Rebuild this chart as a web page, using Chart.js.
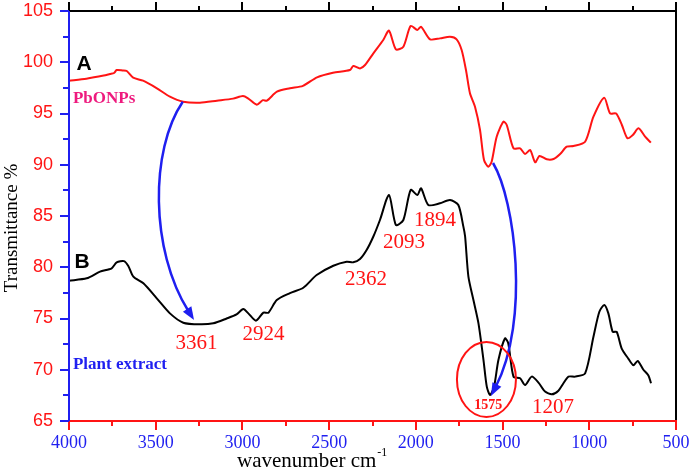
<!DOCTYPE html>
<html>
<head>
<meta charset="utf-8">
<script src="https://cdn.jsdelivr.net/npm/chart.js@4.4.1/dist/chart.umd.min.js"></script>
<style>
  html, body { margin: 0; padding: 0; background: #ffffff; }
  #wrap { width: 692px; height: 473px; position: relative; }
</style>
</head>
<body>
<div id="wrap"><canvas id="ftir"></canvas></div>
<script>
// Spectrum A (PbONPs)
const waveA = [4000, 3900, 3800, 3764, 3740, 3725, 3690, 3667, 3630, 3573, 3493, 3418, 3342, 3245, 3147, 3054, 2997, 2968, 2917, 2882, 2859, 2801, 2726, 2651, 2570, 2478, 2380, 2361, 2322, 2293, 2245, 2188, 2155, 2115, 2072, 2030, 1991, 1970, 1918, 1861, 1803, 1765, 1736, 1711, 1688, 1659, 1630, 1607, 1582, 1563, 1534, 1495, 1476, 1437, 1399, 1370, 1341, 1312, 1287, 1245, 1206, 1168, 1130, 1091, 1024, 976, 914, 880, 845, 812, 780, 749, 716, 678, 645];
const transA = [98.2, 98.4, 98.7, 98.85, 98.95, 99.24, 99.2, 99.15, 98.5, 98.2, 97.46, 96.64, 96.15, 96.05, 96.25, 96.45, 96.7, 96.48, 95.86, 96.3, 96.25, 97.13, 97.46, 97.7, 98.53, 98.98, 99.24, 99.63, 99.4, 99.73, 100.87, 102.17, 103.08, 101.26, 101.52, 103.54, 103.15, 103.47, 102.24, 102.33, 102.49, 102.24, 101.2, 99.24, 96.97, 95.66, 93.39, 90.46, 89.8, 90.3, 92.74, 94.2, 93.88, 91.6, 91.6, 91.05, 91.44, 90.24, 90.85, 90.53, 90.56, 91.05, 91.76, 91.83, 92.25, 94.69, 96.54, 95.01, 95.0, 93.88, 92.58, 92.9, 93.55, 92.74, 92.16];

// Spectrum B (plant extract)
const waveB = [4000, 3898, 3821, 3754, 3725, 3683, 3658, 3629, 3571, 3494, 3418, 3341, 3245, 3168, 3091, 3034, 2995, 2966, 2922, 2879, 2850, 2802, 2726, 2649, 2572, 2476, 2399, 2361, 2322, 2284, 2245, 2207, 2155, 2115, 2072, 2030, 1991, 1970, 1928, 1861, 1803, 1755, 1726, 1716, 1697, 1668, 1639, 1610, 1591, 1572, 1549, 1524, 1486, 1467, 1437, 1399, 1370, 1332, 1293, 1255, 1216, 1178, 1149, 1120, 1082, 1024, 976, 942, 913, 890, 865, 842, 813, 775, 746, 721, 688, 659, 644];
const transB = [78.69, 78.92, 79.57, 79.9, 80.48, 80.6, 80.12, 79.08, 78.43, 76.97, 75.5, 74.59, 74.43, 74.53, 75.0, 75.4, 75.92, 75.5, 74.79, 75.57, 75.57, 76.8, 77.47, 78.0, 79.24, 80.15, 80.54, 80.48, 80.8, 81.68, 83.0, 84.61, 87.05, 84.12, 84.61, 87.54, 87.05, 87.7, 86.07, 86.24, 86.56, 86.07, 83.96, 83.0, 79.08, 76.8, 74.53, 70.95, 68.35, 67.54, 68.35, 70.95, 73.06, 72.56, 69.33, 69.17, 68.51, 69.33, 68.75, 67.87, 67.6, 67.96, 68.68, 69.33, 69.33, 69.65, 73.22, 75.66, 76.32, 75.5, 73.7, 73.7, 72.07, 71.09, 70.44, 70.86, 70.0, 69.45, 68.68];

// Axis ranges and tick steps
const xMin = 500, xMax = 4000, xMajor = 500, xMinor = 250;
const yMin = 65, yMax = 105, yMajor = 5, yMinor = 2.5;

// Peak labels: [text, wavenumber, transmittance]
const peakLabels = [
  ['3361', 3265, 72.6],
  ['2924', 2878, 73.4],
  ['2362', 2287, 78.76],
  ['2093', 2068, 82.37],
  ['1894', 1889, 84.6],
  ['1207', 1209, 66.27],
];

const RED = '#ff1414';
const BLUE = '#1f1ff0';
const SERIF = '"Liberation Serif", "Times New Roman", serif';
const SANS = '"Liberation Sans", Arial, sans-serif';

function toPoints(xs, ys) {
  return xs.map((x, i) => ({ x, y: ys[i] }));
}

function drawArrow(ctx, pts, color) {
  const [p0, c1, c2, p3] = pts;
  ctx.save();
  ctx.strokeStyle = color;
  ctx.fillStyle = color;
  ctx.lineWidth = 2.5;
  // stop the shaft a bit short so the head stays sharp
  const ang = Math.atan2(p3.y - c2.y, p3.x - c2.x);
  const headLen = 13;
  const sx = p3.x - Math.cos(ang) * headLen * 0.8;
  const sy = p3.y - Math.sin(ang) * headLen * 0.8;
  ctx.beginPath();
  ctx.moveTo(p0.x, p0.y);
  ctx.bezierCurveTo(c1.x, c1.y, c2.x, c2.y, sx, sy);
  ctx.stroke();
  ctx.beginPath();
  ctx.moveTo(p3.x, p3.y);
  ctx.lineTo(p3.x - headLen * Math.cos(ang) + 5 * Math.sin(ang), p3.y - headLen * Math.sin(ang) - 5 * Math.cos(ang));
  ctx.lineTo(p3.x - headLen * Math.cos(ang) - 5 * Math.sin(ang), p3.y - headLen * Math.sin(ang) + 5 * Math.cos(ang));
  ctx.closePath();
  ctx.fill();
  ctx.restore();
}

const frameAndNotes = {
  id: 'frameAndNotes',
  afterDatasetsDraw(chart) {
    const { ctx, scales: { x, y } } = chart;
    const px = (w, t) => ({ x: x.getPixelForValue(w), y: y.getPixelForValue(t) });

    // arrows from the PbONPs trace to the plant extract trace
    drawArrow(ctx, [px(3344, 96.15), px(3533, 91.44), px(3533, 81.68), px(3279, 74.85)], BLUE);
    drawArrow(ctx, [px(1555, 90.17), px(1428, 86.56), px(1341, 74.85), px(1567, 67.44)], BLUE);

    // circle round the 1575 band
    const c = px(1593, 69.05);
    ctx.save();
    ctx.strokeStyle = RED;
    ctx.lineWidth = 2;
    ctx.beginPath();
    ctx.ellipse(c.x, c.y, 29.5, 37.5, 0, 0, Math.PI * 2);
    ctx.stroke();

    ctx.textAlign = 'center';
    ctx.textBaseline = 'middle';
    ctx.fillStyle = RED;
    ctx.font = 'bold 14px ' + SERIF;
    const p1575 = px(1582, 66.56);
    ctx.fillText('1575', p1575.x, p1575.y);

    ctx.font = '21px ' + SERIF;
    peakLabels.forEach(([t, w, v]) => {
      const p = px(w, v);
      ctx.fillText(t, p.x, p.y);
    });

    ctx.fillStyle = '#000000';
    ctx.font = 'bold 21px ' + SANS;
    const pA = px(3913, 99.78);
    ctx.fillText('A', pA.x, pA.y);
    const pB = px(3925, 80.5);
    ctx.fillText('B', pB.x, pB.y);

    ctx.textAlign = 'left';
    ctx.font = 'bold 17px ' + SERIF;
    ctx.fillStyle = '#ee1a7e';
    const pPb = px(3977, 96.5);
    ctx.fillText('PbONPs', pPb.x, pPb.y);
    ctx.fillStyle = BLUE;
    const pPl = px(3977, 70.46);
    ctx.fillText('Plant extract', pPl.x, pPl.y);
    ctx.restore();
  },
  afterDraw(chart) {
    const { ctx, chartArea: a, scales: { x, y } } = chart;
    ctx.save();
    ctx.lineWidth = 2;
    // top and right frame
    ctx.strokeStyle = '#000000';
    ctx.beginPath();
    ctx.moveTo(a.left, a.top);
    ctx.lineTo(a.right, a.top);
    ctx.moveTo(a.right, a.top - 8);
    ctx.lineTo(a.right, a.bottom);
    ctx.stroke();
    // bottom axis
    ctx.strokeStyle = RED;
    ctx.beginPath();
    ctx.moveTo(a.left, a.bottom);
    ctx.lineTo(a.right + 1, a.bottom);
    ctx.stroke();
    // left axis
    ctx.strokeStyle = BLUE;
    ctx.beginPath();
    ctx.moveTo(a.left, a.top - 1);
    ctx.lineTo(a.left, a.bottom + 1);
    ctx.stroke();

    for (let v = xMin; v <= xMax; v += xMinor) {
      const p = Math.round(x.getPixelForValue(v));
      const len = v % xMajor === 0 ? 9 : 5;
      ctx.strokeStyle = RED;
      ctx.beginPath();
      ctx.moveTo(p, a.bottom);
      ctx.lineTo(p, a.bottom + len);
      ctx.stroke();
      ctx.strokeStyle = '#000000';
      ctx.beginPath();
      ctx.moveTo(p, a.top);
      ctx.lineTo(p, a.top - len);
      ctx.stroke();
    }
    ctx.strokeStyle = BLUE;
    for (let v = yMin; v <= yMax; v += yMinor) {
      const p = Math.round(y.getPixelForValue(v));
      const len = v % yMajor === 0 ? 9 : 6;
      ctx.beginPath();
      ctx.moveTo(a.left, p);
      ctx.lineTo(a.left - len, p);
      ctx.stroke();
    }

    // axis titles
    ctx.fillStyle = '#000000';
    ctx.textBaseline = 'alphabetic';
    ctx.textAlign = 'left';
    ctx.font = '21px ' + SERIF;
    const main = 'wavenumber cm';
    const tx = 237, ty = 467;
    ctx.fillText(main, tx, ty);
    const mw = ctx.measureText(main).width;
    ctx.font = '12px ' + SERIF;
    ctx.fillText('-1', tx + mw + 1, ty - 11);

    ctx.translate(12, 228);
    ctx.rotate(-Math.PI / 2);
    ctx.textAlign = 'center';
    ctx.textBaseline = 'middle';
    ctx.font = '19px ' + SERIF;
    ctx.fillText('Transmittance %', 0, 0);
    ctx.restore();
  },
};

new Chart(document.getElementById('ftir'), {
  type: 'line',
  data: {
    datasets: [
      {
        label: 'PbONPs',
        data: toPoints(waveA, transA),
        borderColor: RED,
        borderWidth: 2,
        pointRadius: 0,
        tension: 0.25,
        fill: false,
      },
      {
        label: 'Plant extract',
        data: toPoints(waveB, transB),
        borderColor: '#000000',
        borderWidth: 2,
        pointRadius: 0,
        tension: 0.25,
        fill: false,
      },
    ],
  },
  options: {
    responsive: true,
    maintainAspectRatio: false,
    animation: false,
    layout: { padding: { top: 11, right: 16, left: 0, bottom: 0 } },
    plugins: { legend: { display: false }, tooltip: { enabled: false } },
    scales: {
      x: {
        type: 'linear',
        reverse: true,
        min: xMin,
        max: xMax,
        grid: { display: false, drawTicks: false },
        border: { display: false },
        ticks: {
          stepSize: xMajor,
          padding: 11,
          color: BLUE,
          maxRotation: 0,
          font: { family: SERIF, size: 18 },
          callback: (v) => String(v),
        },
        // fixed box so the plot area lands where the reference has it
        afterFit(scale) {
          scale.height = 52;
          scale.paddingLeft = 0;
          scale.paddingRight = 0;
        },
      },
      y: {
        min: yMin,
        max: yMax,
        grid: { display: false, drawTicks: false },
        border: { display: false },
        ticks: {
          stepSize: yMajor,
          padding: 16,
          color: RED,
          font: { family: SANS, size: 18 },
        },
        afterFit(scale) {
          scale.width = 69;
          scale.paddingTop = 0;
          scale.paddingBottom = 0;
        },
      },
    },
  },
  plugins: [frameAndNotes],
});
</script>
</body>
</html>
